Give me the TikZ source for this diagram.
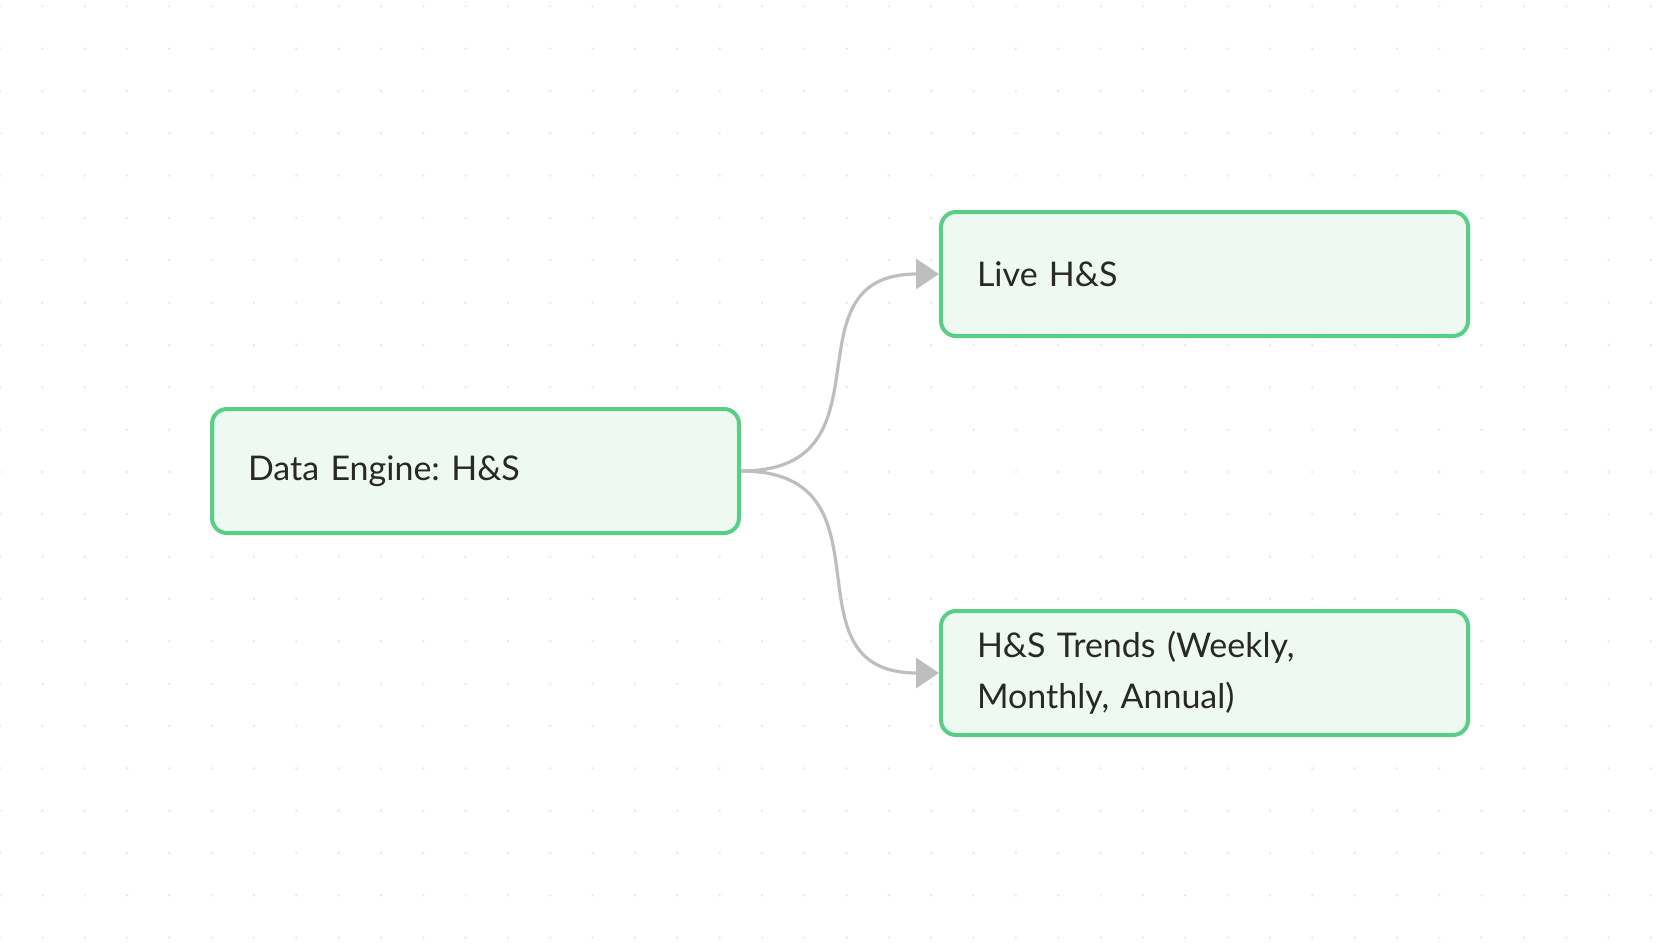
\documentclass[tikz,border=0pt]{standalone}
\usepackage{fontspec}
\setmainfont{Lato}
\frenchspacing
\usetikzlibrary{positioning,arrows.meta}

\definecolor{boxline}{RGB}{88,206,134}
\definecolor{boxfill}{RGB}{238,249,241}
\definecolor{linkgray}{RGB}{190,190,190}
\definecolor{dotgray}{RGB}{232,232,232}
\definecolor{inkgray}{RGB}{40,40,40}

\tikzset{
  stage/.style={draw=boxline, fill=boxfill, line width=2pt, rounded corners=7.5pt,
    minimum width=263.5pt, minimum height=62pt, inner xsep=18pt,
    text width=227.5pt, align=left, text=inkgray,
    font=\fontsize{17pt}{25.5pt}\selectfont},
  link/.style={color=linkgray, line width=1.6pt,
    -{Triangle[length=11.5pt,width=15pt]}}
}

\begin{document}
\begin{tikzpicture}[x=0.5pt, y=-0.5pt]
    \useasboundingbox (0,0) rectangle (1680,948);
    \fill[white] (0,0) rectangle (1680,948);

    % dotted grid
    \foreach \i in {0,...,39}
      \foreach \j in {0,...,22}
        \fill[dotgray] (42.33*\i, 6.33+42.33*\j) circle (1.3);

    \node (data) [stage] at (475.5,471) {Data Engine: H\&S};
    \node (live) [stage, above right=34.5pt and 99pt of data] {Live H\&S};
    \node (trends) [stage, below right=37pt and 99pt of data] {H\&S Trends (Weekly,\\Monthly, Annual)};

    \path (data) edge [link, out=0, in=180, looseness=1.45] (live);
    \path (data) edge [link, out=0, in=180, looseness=1.45] (trends);
  \end{tikzpicture}
\end{document}
